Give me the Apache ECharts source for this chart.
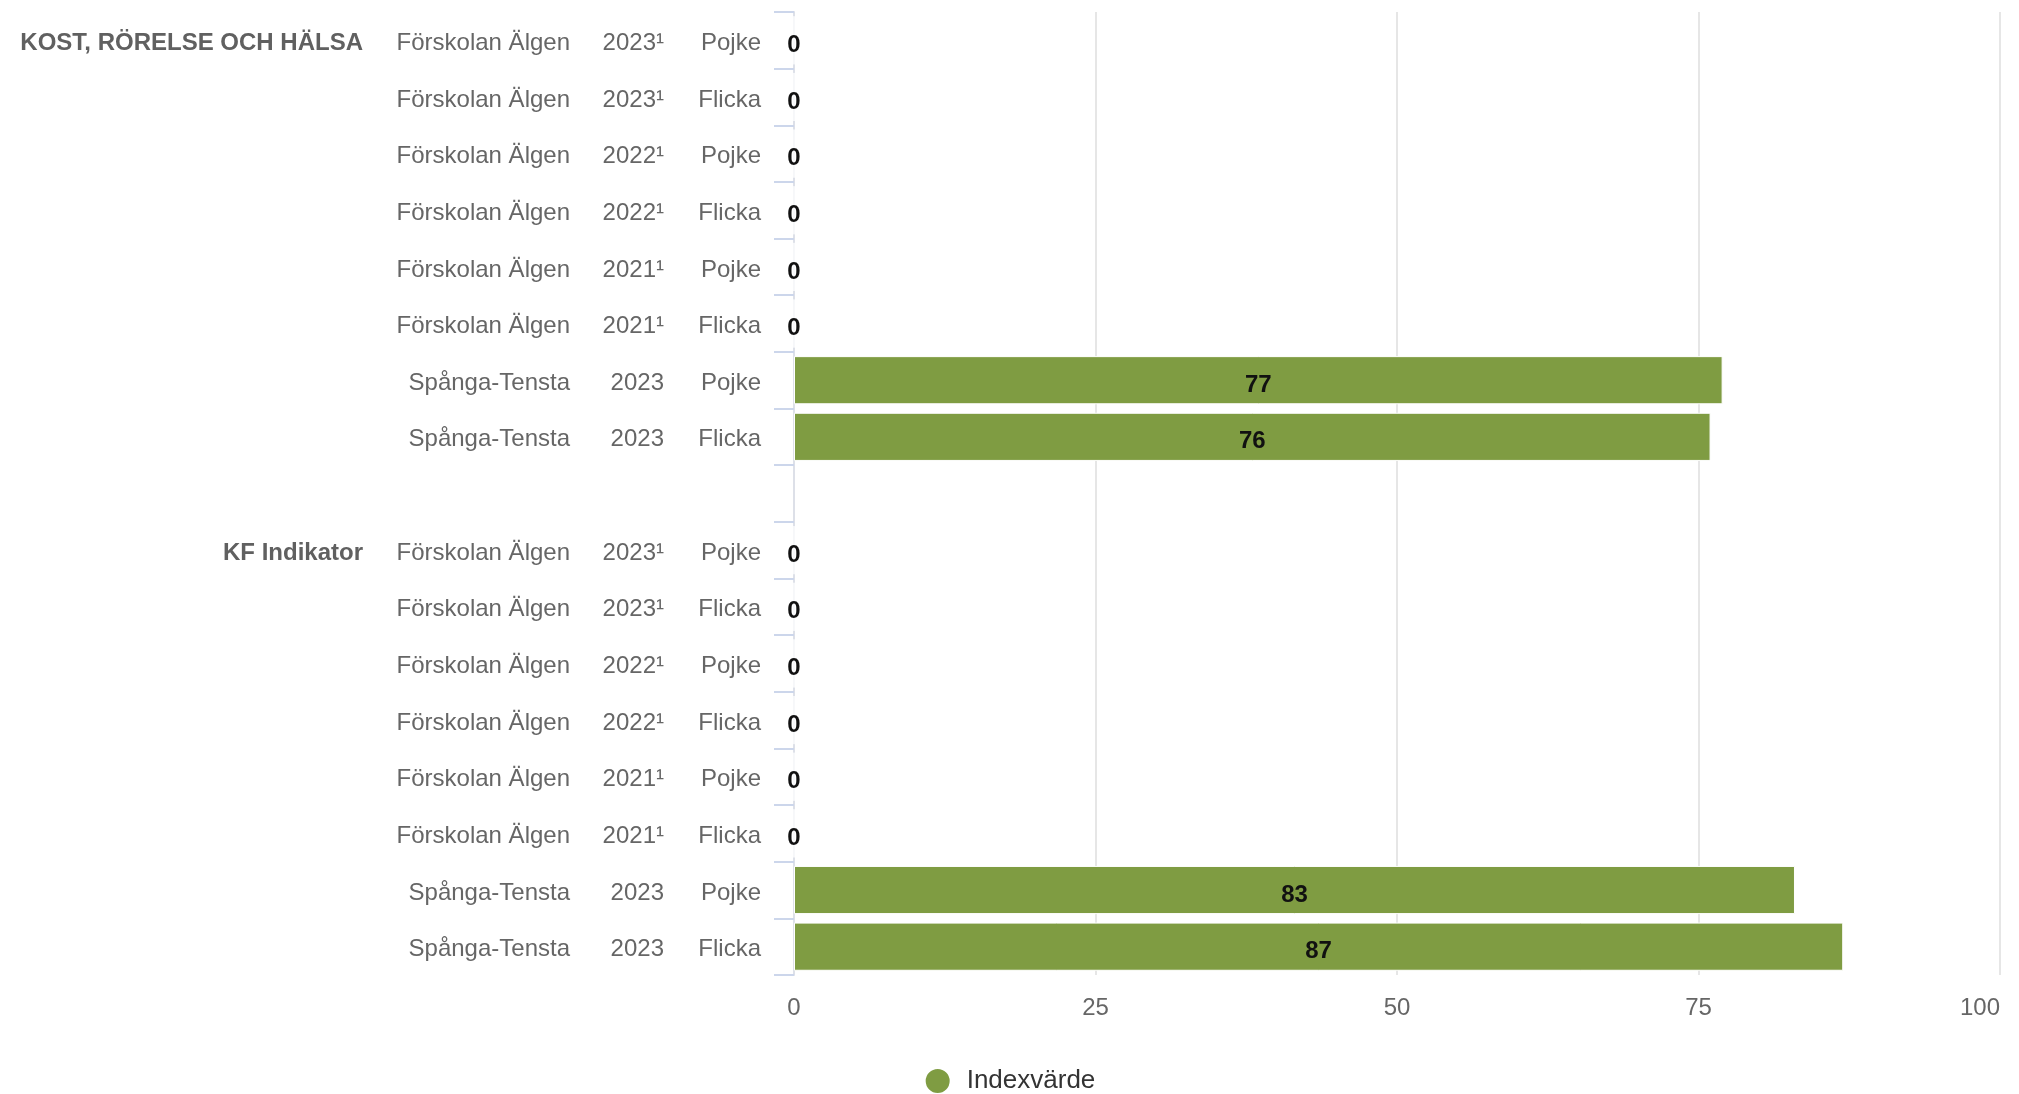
<!DOCTYPE html>
<html>
<head>
<meta charset="utf-8">
<script src="https://cdn.jsdelivr.net/npm/echarts@6/dist/echarts.min.js"></script>
<style>
html,body{margin:0;padding:0;background:#fff;}
#chart{width:2019px;height:1094px;}
</style>
</head>
<body>
<div id="chart"></div>
<script>
// ---- data ----
const groups = ['KOST, RÖRELSE OCH HÄLSA', 'KF Indikator'];
const schools = ['Förskolan Älgen','Förskolan Älgen','Förskolan Älgen','Förskolan Älgen','Förskolan Älgen','Förskolan Älgen','Spånga-Tensta','Spånga-Tensta'];
const years = ['2023¹','2023¹','2022¹','2022¹','2021¹','2021¹','2023','2023'];
const genders = ['Pojke','Flicka','Pojke','Flicka','Pojke','Flicka','Pojke','Flicka'];
const kostValues = [0, 0, 0, 0, 0, 0, 77, 76];
const kfValues = [0, 0, 0, 0, 0, 0, 83, 87];
const xTicks = [0, 25, 50, 75, 100];
const seriesName = 'Indexvärde';

// ---- build category rows (blank row between groups) ----
const groupCol = [], schoolCol = [], yearCol = [], genderCol = [], values = [];
[kostValues, kfValues].forEach((vals, gi) => {
  if (gi > 0) { groupCol.push(''); schoolCol.push(''); yearCol.push(''); genderCol.push(''); values.push('-'); }
  vals.forEach((v, i) => {
    groupCol.push(i === 0 ? groups[gi] : '');
    schoolCol.push(schools[i]);
    yearCol.push(years[i]);
    genderCol.push(genders[i]);
    values.push(v);
  });
});

const FONT = '"Liberation Sans", Arial, Helvetica, sans-serif';

function yLabel(margin, bold) {
  const color = bold ? '#606060' : '#666666';
  return {
    interval: 0, margin: margin,
    color: color, fontSize: 24, fontFamily: FONT, fontWeight: bold ? 'bold' : 'normal',
    formatter: v => v ? '{t|' + v + '}' : '',
    rich: { t: { color: color, fontSize: 24, fontFamily: FONT, fontWeight: bold ? 'bold' : 'normal', padding: [6, 0, 0, 0] } }
  };
}

function extraAxis(data, offset, bold) {
  return {
    type: 'category', data: data, inverse: true, position: 'left', offset: offset,
    axisLine: { show: false }, axisTick: { show: false }, splitLine: { show: false },
    axisLabel: yLabel(0, bold)
  };
}

const chart = echarts.init(document.getElementById('chart'), null, { renderer: 'canvas' });
chart.setOption({
  animation: false,
  backgroundColor: '#ffffff',
  grid: { left: 794, right: 19, top: 12, bottom: 119, containLabel: false },
  legend: {
    data: [seriesName], left: 'center', top: 1062,
    icon: 'circle', itemWidth: 26, itemHeight: 26,
    textStyle: { color: '#333333', fontSize: 26, fontFamily: FONT, padding: [0, 0, 0, 11] }
  },
  xAxis: {
    type: 'value', min: xTicks[0], max: xTicks[xTicks.length - 1], interval: 25,
    axisLine: { show: false }, axisTick: { show: false },
    splitLine: { show: true, lineStyle: { color: '#e6e6e6', width: 2 } },
    axisLabel: { color: '#666666', fontSize: 24, fontFamily: FONT, margin: 21, alignMaxLabel: 'right' }
  },
  yAxis: [
    {
      type: 'category', data: genderCol, inverse: true, position: 'left',
      axisLine: { show: true, lineStyle: { color: '#dde0e8', width: 2 } },
      axisTick: { show: true, interval: 0, length: 20, lineStyle: { color: '#ccd6eb', width: 2 } },
      axisLabel: yLabel(33, false)
    },
    extraAxis(yearCol, 130, false),
    extraAxis(schoolCol, 224, false),
    extraAxis(groupCol, 431, true)
  ],
  series: [{
    name: seriesName, type: 'bar', yAxisIndex: 0, data: values,
    barCategoryGap: '15%',
    itemStyle: { color: '#7f9c42', borderColor: '#ffffff', borderWidth: 1 },
    label: {
      show: true, position: 'inside', offset: [0, 5],
      color: '#111111', fontSize: 24, fontWeight: 'bold', fontFamily: FONT
    }
  }]
});
</script>
</body>
</html>
